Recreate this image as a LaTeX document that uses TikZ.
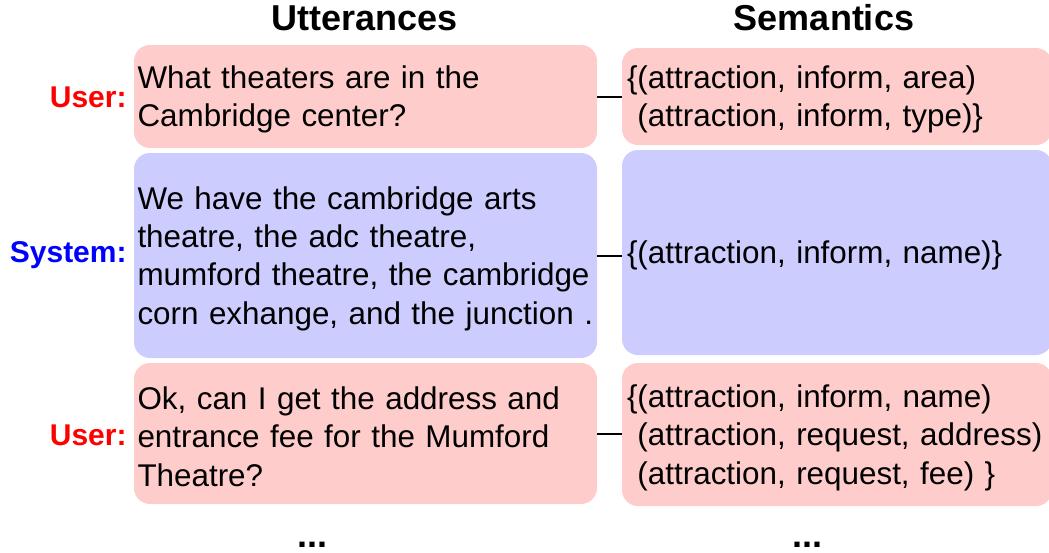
\documentclass[tikz,border=0pt]{standalone}
\usepackage{fontspec}
\setmainfont{Liberation Sans}
\usetikzlibrary{positioning}
\definecolor{userpink}{HTML}{FFCCCC}
\definecolor{sysblue}{HTML}{CCCCFF}
\begin{document}
\begin{tikzpicture}[x=0.5pt,y=-0.5pt]
	\tikzstyle{uttbox}=[rectangle,rounded corners=8pt,minimum width=231.5pt,text width=228pt,inner xsep=1.75pt,align=left,font=\fontsize{15.7}{19.2}\selectfont,execute at begin node={\hyphenpenalty=10000\rule{0pt}{14.5pt}}]
	\tikzstyle{sembox}=[rectangle,rounded corners=8pt,minimum width=215pt,text width=210pt,inner xsep=2.5pt,align=left,font=\fontsize{15.7}{19.2}\selectfont,execute at begin node={\hyphenpenalty=10000\rule{0pt}{14.5pt}}]
	\tikzstyle{userbox}=[fill=userpink]
	\tikzstyle{sysbox}=[fill=sysblue]
	\tikzstyle{spklabel}=[anchor=east,inner sep=0pt,font=\fontsize{15}{18}\selectfont\bfseries]
	\tikzstyle{colhead}=[font=\fontsize{18}{21}\selectfont\bfseries]
	\tikzstyle{link}=[draw=black,line width=1pt]
	\useasboundingbox (0,0) rectangle (1049,552);
	\clip (0,0) rectangle (1049,552);
	% column heads
	\node[colhead] (h-utt) at (365,18) {Utterances};
	\node[colhead] (h-sem) at (824,18) {Semantics};
	% first user turn
	\node[uttbox,userbox,minimum height=51.5pt] (u1) at (365.5,96.5) {What theaters are in the\\Cambridge center?};
	\node[sembox,userbox,minimum height=48.5pt] (s1) at (837,96.5) {\{(attraction, inform, area)\\\mbox{ }(attraction, inform, type)\}};
	\node[spklabel,red] (l1) at (127,97) {User:};
	% system turn
	\node[uttbox,sysbox,minimum height=102.5pt] (u2) at (365.5,255.5) {We have the cambridge arts\\theatre, the adc theatre,\\mumford theatre, the cambridge\\corn exhange, and the junction~.};
	\node[sembox,sysbox,minimum height=102.5pt] (s2) at (837,252.5) {\{(attraction, inform, name)\}};
	\node[spklabel,blue] (l2) at (127,255) {System:};
	% second user turn
	\node[uttbox,userbox,minimum height=70.5pt] (u3) at (365.5,433.5) {Ok, can I get the address and\\entrance fee for the Mumford\\Theatre?};
	\node[sembox,userbox,minimum height=71.5pt] (s3) at (837,434.5) {\{(attraction, inform, name)\\\mbox{ }(attraction, request, address)\\\mbox{ }(attraction, request, fee) \}};
	\node[spklabel,red] (l3) at (127,435) {User:};
	% links
	\draw[link] (u1.east) -- (u1.east -| s1.west);
	\draw[link] (u2.east) -- (u2.east -| s2.west);
	\draw[link] (u3.east) -- (u3.east -| s3.west);
	% more turns
	\node[colhead,anchor=base] (m-utt) at (312,547) {...};
	\node[colhead,anchor=base] (m-sem) at (807,547) {...};
\end{tikzpicture}
\end{document}
